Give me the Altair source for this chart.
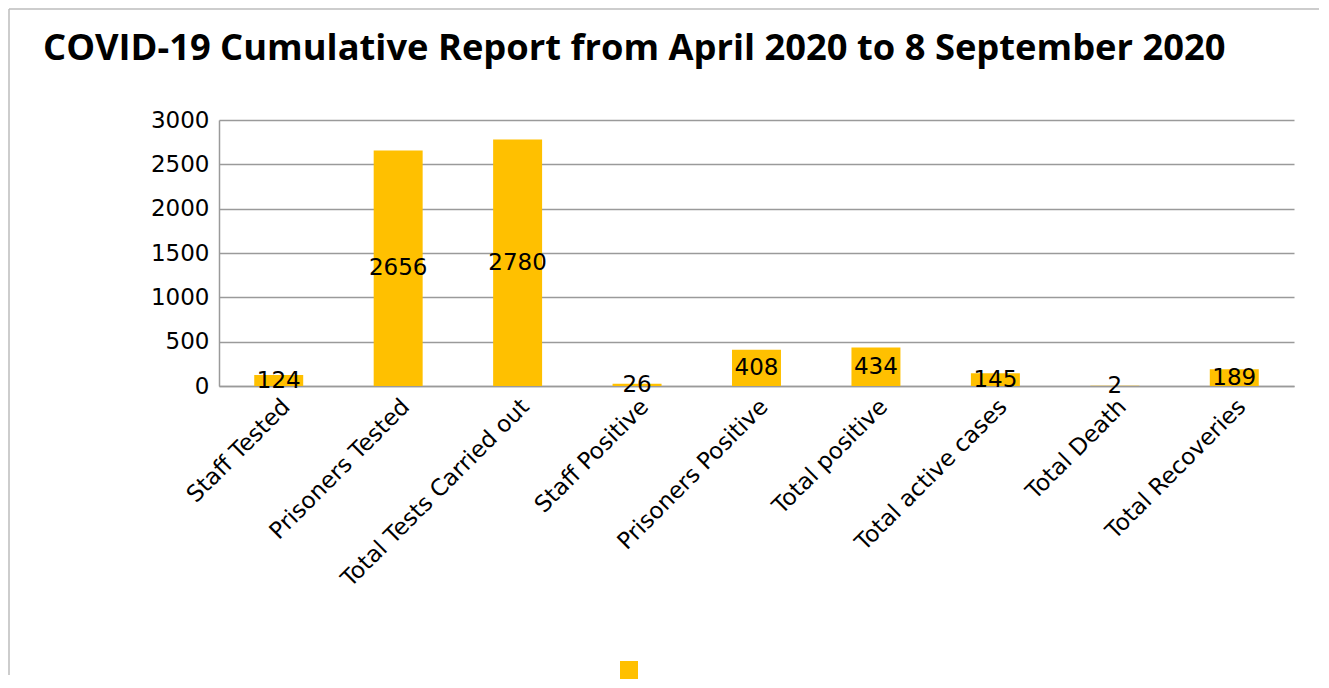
import altair as alt
import pandas as pd

categories = ["Staff Tested", "Prisoners Tested", "Total Tests Carried out",
              "Staff Positive", "Prisoners Positive", "Total positive",
              "Total active cases", "Total Death", "Total Recoveries"]
values = [124, 2656, 2780, 26, 408, 434, 145, 2, 189]
series = ["Series1"] * len(categories)
y_ticks = [0, 500, 1000, 1500, 2000, 2500, 3000]

df = pd.DataFrame({"category": categories, "value": values, "series": series})

FONT = "DejaVu Sans"
GRID = "#9a9a9a"
BORDER = "#bdbdbd"

xenc = alt.X("category:N", sort=categories,
             scale=alt.Scale(paddingInner=0.59, paddingOuter=0.295),
             axis=alt.Axis(title=None, labelAngle=-45, tickSize=0, labelPadding=9,
                           labelFont=FONT, labelFontSize=23, labelColor="black",
                           labelOverlap=False, labelLimit=500,
                           domainColor=GRID, domainWidth=1.5))

base = alt.Chart(df).encode(x=xenc)

bars = base.mark_bar(color="#FFC000").encode(
    y=alt.Y("value:Q", scale=alt.Scale(domain=[0, 3000], nice=False),
            axis=alt.Axis(values=y_ticks, format="d", title=None, tickSize=0, labelPadding=10,
                          labelFont=FONT, labelFontSize=23, labelColor="black",
                          domainColor=GRID, domainWidth=1.5,
                          gridColor=GRID, gridWidth=1.5)),
    color=alt.Color("series:N", scale=alt.Scale(range=["#FFC000"]),
                    legend=alt.Legend(title=None, orient="none", legendX=401, legendY=541,
                                      symbolType="square", symbolSize=324,
                                      symbolStrokeWidth=0, labelExpr="''", padding=0))
)

labels = base.mark_text(font=FONT, fontSize=23, color="black", baseline="middle").transform_calculate(
    half="datum.value / 2"
).encode(
    y=alt.Y("half:Q"),
    text=alt.Text("value:Q")
)

one = alt.Data(values=[{"a": 1}])
border_top = alt.Chart(one).mark_rule(stroke=BORDER, strokeWidth=1.5).encode(
    x=alt.value(-210), x2=alt.value(1100), y=alt.value(-111)
)
border_left = alt.Chart(one).mark_rule(stroke=BORDER, strokeWidth=1.5).encode(
    x=alt.value(-210), y=alt.value(-111), y2=alt.value(555)
)

chart = alt.layer(border_top, border_left, bars, labels).properties(
    width=1075, height=266,
    padding={"left": 0, "top": 0, "right": 0, "bottom": 0},
    title=alt.TitleParams(
        "COVID-19 Cumulative Report from April 2020 to 8 September 2020",
        anchor="start", frame="group", dx=-176, dy=63,
        font="Open Sans", fontWeight="bold", fontSize=36.3, color="black"
    )
).configure_view(strokeWidth=0)

chart.save("out.html", embed_options={"renderer": "svg", "actions": False})
